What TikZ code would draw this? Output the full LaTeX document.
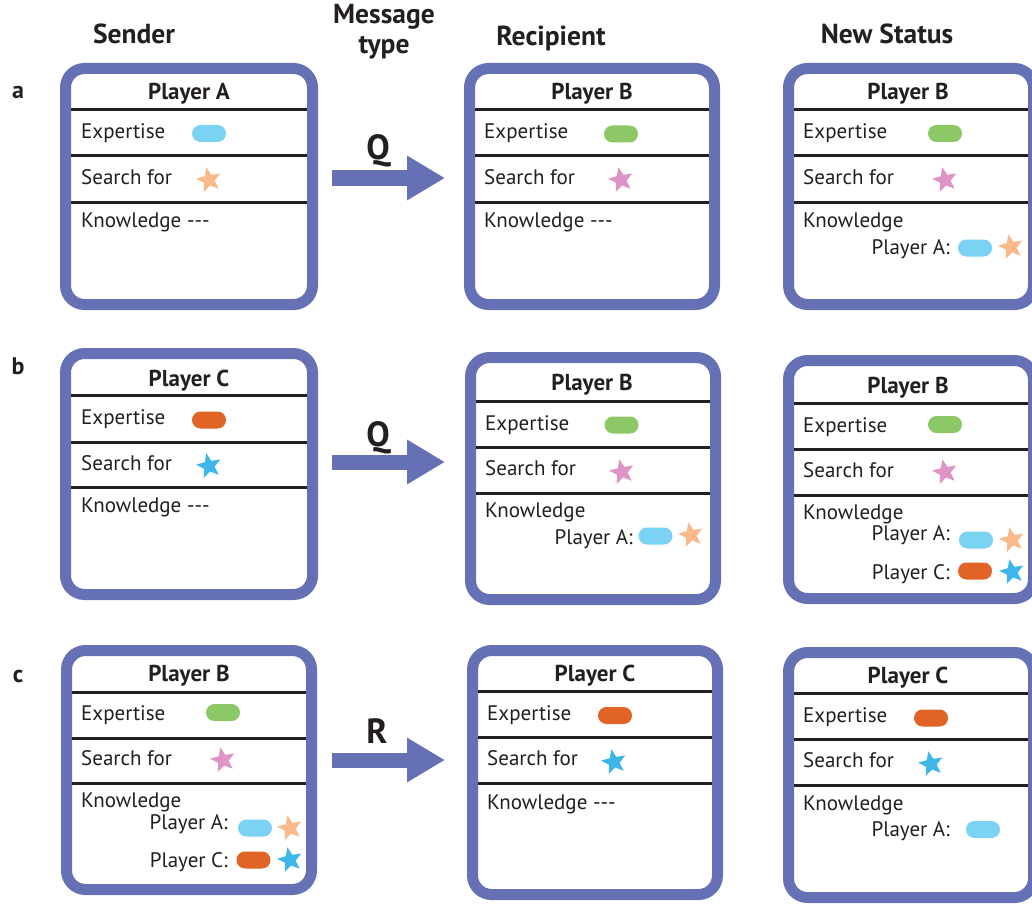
\documentclass[tikz,border=0pt]{standalone}
\usepackage{fontspec}
\setmainfont{PT Sans}
\usetikzlibrary{shapes.geometric,arrows.meta}
\definecolor{boxblue}{RGB}{102,112,181}
\definecolor{ink}{RGB}{35,31,32}
\definecolor{lblue}{RGB}{123,211,243}
\definecolor{lgreen}{RGB}{140,200,102}
\definecolor{orng}{RGB}{224,100,38}
\definecolor{peach}{RGB}{249,185,138}
\definecolor{pink}{RGB}{223,148,198}
\definecolor{sblue}{RGB}{61,183,233}
\begin{document}
\begin{tikzpicture}[x=1pt,y=-1pt,
  pbox/.style={draw=boxblue, line width=11pt, rounded corners=19pt, inner sep=0pt, fill=white},
  divider/.style={draw=ink, line width=3pt},
  lbl/.style={anchor=base west, inner sep=0pt, text=ink, font=\fontsize{21}{24}\selectfont},
  klbl/.style={anchor=base east, inner sep=0pt, text=ink, font=\fontsize{21}{24}\selectfont},
  ttl/.style={anchor=base, inner sep=0pt, text=ink, font=\fontsize{23}{26}\selectfont\bfseries},
  colhead/.style={anchor=base, inner sep=0pt, text=ink, align=center, font=\fontsize{27.5}{30}\selectfont\bfseries},
  rowlbl/.style={anchor=base, inner sep=0pt, text=ink, font=\fontsize{24}{26}\selectfont\bfseries},
  msglbl/.style={anchor=base, inner sep=0pt, text=ink, font=\fontsize{35}{38}\selectfont\bfseries},
  pill/.style={rectangle, rounded corners=8.4pt, minimum width=34pt, minimum height=17pt, inner sep=0pt, draw=none, fill=#1},
  starmark/.style={star, star points=5, star point ratio=2.3, minimum size=26pt, inner sep=0pt, draw=none, fill=#1, rotate=12},
  msg/.style={draw=boxblue, line width=15pt, -{Triangle[length=38pt,width=42pt]}}
]
\useasboundingbox (0,0) rectangle (1032,904);

% column headers
\node[colhead] (hs) at (134,44) {Sender};
\node[colhead] (hm) at (384,54) {Message\\type};
\node[colhead] (hr) at (551,46) {Recipient};
\node[colhead] (hn) at (887,44) {New Status};

% row labels
\node[rowlbl] (la) at (18,99) {a};
\node[rowlbl] (lb) at (18,374) {b};
\node[rowlbl] (lc) at (18,682) {c};

% ================= Row a =================
\node[pbox, minimum width=247pt, minimum height=236pt] (sa) at (189,186.5) {};
\node[ttl] (saT) at (189,100) {Player A};
\draw[divider] (71,110) -- (307,110);
\draw[divider] (71,156) -- (307,156);
\draw[divider] (71,202) -- (307,202);
\node[lbl] (saE) at (81,139) {Expertise};
\node[pill=lblue] (saEp) at (209,133.5) {};
\node[lbl] (saS) at (81,185) {Search for};
\node[starmark=peach] (saSs) at (209,180) {};
\node[lbl] (saK) at (81,227) {Knowledge -{}-{}-};

\node[pbox, minimum width=245pt, minimum height=236pt] (ra) at (592,186.5) {};
\node[ttl] (raT) at (592,100) {Player B};
\draw[divider] (475,110) -- (709,110);
\draw[divider] (475,156) -- (709,156);
\draw[divider] (475,202) -- (709,202);
\node[lbl] (raE) at (484,139) {Expertise};
\node[pill=lgreen] (raEp) at (621,134) {};
\node[lbl] (raS) at (484,185) {Search for};
\node[starmark=pink] (raSs) at (621,180) {};
\node[lbl] (raK) at (484,227) {Knowledge -{}-{}-};

\node[pbox, minimum width=245pt, minimum height=236pt] (na) at (911,186.5) {};
\node[ttl] (naT) at (908,100) {Player B};
\draw[divider] (794,110) -- (1028,110);
\draw[divider] (794,156) -- (1028,156);
\draw[divider] (794,202) -- (1028,202);
\node[lbl] (naE) at (803,139) {Expertise};
\node[pill=lgreen] (naEp) at (945,133.5) {};
\node[lbl] (naS) at (803,185) {Search for};
\node[starmark=pink] (naSs) at (945,180) {};
\node[lbl] (naK) at (803,227) {Knowledge};
\node[klbl] (naA) at (950,254) {Player A:};
\node[pill=lblue] (naAp) at (975,248) {};
\node[starmark=peach] (naAs) at (1011,247) {};

\coordinate (qa1) at (332,178);
\coordinate (qa2) at (445,178);
\draw[msg] (qa1) -- (qa2);
\node[msglbl] (qa) at (378,160) {Q};

% ================= Row b =================
\node[pbox, minimum width=247pt, minimum height=241pt] (sb) at (189,474) {};
\node[ttl] (sbT) at (189,386) {Player C};
\draw[divider] (71,395) -- (307,395);
\draw[divider] (71,442) -- (307,442);
\draw[divider] (71,487) -- (307,487);
\node[lbl] (sbE) at (81,424) {Expertise};
\node[pill=orng] (sbEp) at (209,420) {};
\node[lbl] (sbS) at (81,470) {Search for};
\node[starmark=sblue] (sbSs) at (209,466) {};
\node[lbl] (sbK) at (81,512) {Knowledge -{}-{}-};

\node[pbox, minimum width=245pt, minimum height=242pt] (rb) at (593,478.5) {};
\node[ttl] (rbT) at (592,390) {Player B};
\draw[divider] (476,401) -- (710,401);
\draw[divider] (476,447) -- (710,447);
\draw[divider] (476,493) -- (710,493);
\node[lbl] (rbE) at (485,430) {Expertise};
\node[pill=lgreen] (rbEp) at (621.5,425) {};
\node[lbl] (rbS) at (485,475) {Search for};
\node[starmark=pink] (rbSs) at (622,472) {};
\node[lbl] (rbK) at (485,517) {Knowledge};
\node[klbl] (rbA) at (633,544) {Player A:};
\node[pill=lblue] (rbAp) at (655.5,536) {};
\node[starmark=peach] (rbAs) at (691,535) {};

\node[pbox, minimum width=245pt, minimum height=238pt] (nb) at (911,479.5) {};
\node[ttl] (nbT) at (908,393) {Player B};
\draw[divider] (794,403) -- (1028,403);
\draw[divider] (794,449) -- (1028,449);
\draw[divider] (794,495) -- (1028,495);
\node[lbl] (nbE) at (803,432) {Expertise};
\node[pill=lgreen] (nbEp) at (945,424.5) {};
\node[lbl] (nbS) at (803,477) {Search for};
\node[starmark=pink] (nbSs) at (945,472) {};
\node[lbl] (nbK) at (803,519) {Knowledge};
\node[klbl] (nbA) at (950,540) {Player A:};
\node[pill=lblue] (nbAp) at (976,540) {};
\node[starmark=peach] (nbAs) at (1012,540) {};
\node[klbl] (nbC) at (950,579) {Player C:};
\node[pill=orng] (nbCp) at (975,571) {};
\node[starmark=sblue] (nbCs) at (1012,572) {};

\coordinate (qb1) at (332,462);
\coordinate (qb2) at (445,462);
\draw[msg] (qb1) -- (qb2);
\node[msglbl] (qb) at (378,446) {Q};

% ================= Row c =================
\node[pbox, minimum width=245pt, minimum height=239pt] (sc) at (189,770) {};
\node[ttl] (scT) at (189,681) {Player B};
\draw[divider] (72,692) -- (306,692);
\draw[divider] (72,738) -- (306,738);
\draw[divider] (72,783) -- (306,783);
\node[lbl] (scE) at (81,720) {Expertise};
\node[pill=lgreen] (scEp) at (223,712.5) {};
\node[lbl] (scS) at (81,765) {Search for};
\node[starmark=pink] (scSs) at (223,760) {};
\node[lbl] (scK) at (81,807) {Knowledge};
\node[klbl] (scA) at (228,829) {Player A:};
\node[pill=lblue] (scAp) at (255,828) {};
\node[starmark=peach] (scAs) at (290,828) {};
\node[klbl] (scC) at (228,867) {Player C:};
\node[pill=orng] (scCp) at (253.5,860) {};
\node[starmark=sblue] (scCs) at (290,860) {};

\node[pbox, minimum width=245pt, minimum height=244pt] (rc) at (595,772.5) {};
\node[ttl] (rcT) at (595,681) {Player C};
\draw[divider] (478,691) -- (712,691);
\draw[divider] (478,737) -- (712,737);
\draw[divider] (478,783) -- (712,783);
\node[lbl] (rcE) at (487,720) {Expertise};
\node[pill=orng] (rcEp) at (615,715.5) {};
\node[lbl] (rcS) at (487,765) {Search for};
\node[starmark=sblue] (rcSs) at (614,762) {};
\node[lbl] (rcK) at (487,809) {Knowledge -{}-{}-};

\node[pbox, minimum width=245pt, minimum height=245pt] (nc) at (911,775) {};
\node[ttl] (ncT) at (908,683) {Player C};
\draw[divider] (794,693) -- (1028,693);
\draw[divider] (794,739) -- (1028,739);
\draw[divider] (794,785) -- (1028,785);
\node[lbl] (ncE) at (803,722) {Expertise};
\node[pill=orng] (ncEp) at (931,718) {};
\node[lbl] (ncS) at (803,767) {Search for};
\node[starmark=sblue] (ncSs) at (931,764) {};
\node[lbl] (ncK) at (803,810) {Knowledge};
\node[klbl] (ncA) at (950,836) {Player A:};
\node[pill=lblue] (ncAp) at (983,829.5) {};

\coordinate (rc1) at (332,760);
\coordinate (rc2) at (445,760);
\draw[msg] (rc1) -- (rc2);
\node[msglbl] (rr) at (377,743) {R};
\end{tikzpicture}
\end{document}
